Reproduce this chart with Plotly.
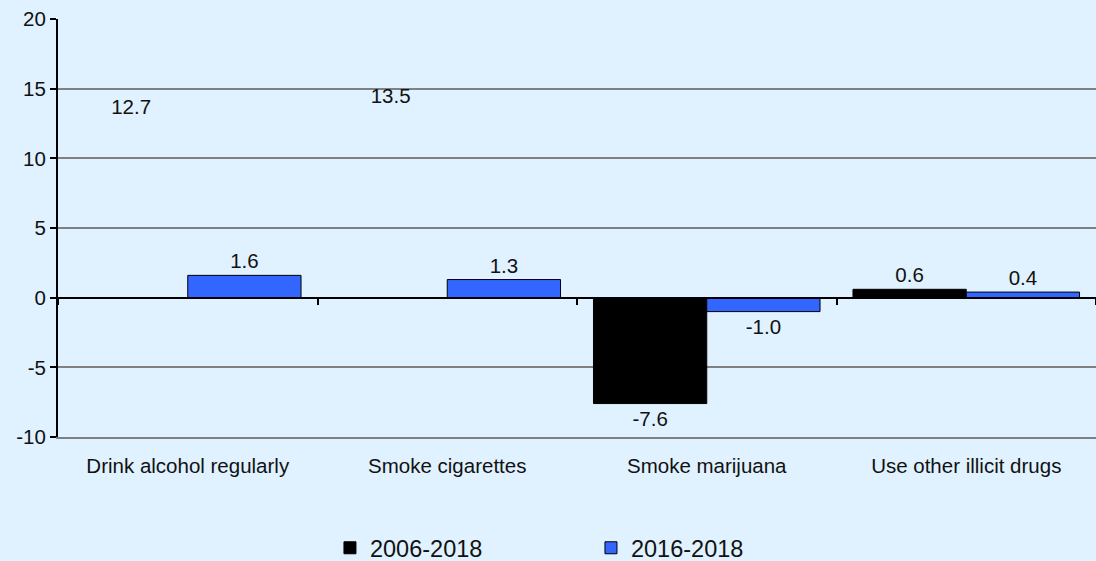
import plotly.graph_objects as go

categories = ['Drink alcohol regularly', 'Smoke cigarettes', 'Smoke marijuana', 'Use other illicit drugs']
change_2006_2018 = [12.7, 13.5, -7.6, 0.6]
change_2016_2018 = [1.6, 1.3, -1.0, 0.4]
# the first two 2006-2018 bars are not drawn in the source, only their labels
bar_drawn_2006 = [False, False, True, True]
y_ticks = [-10, -5, 0, 5, 10, 15, 20]

bg = '#E0F2FF'
black_fill = ['#000000' if d else 'rgba(0,0,0,0)' for d in bar_drawn_2006]

fig = go.Figure()
fig.add_trace(go.Bar(
    x=categories, y=change_2006_2018, name='2006-2018', offsetgroup='a', showlegend=False,
    marker=dict(color=black_fill, line=dict(color=black_fill, width=1)),
    text=[f'{v:.1f}' for v in change_2006_2018], textposition='outside',
    textfont=dict(size=20.5, color='#111111'), cliponaxis=False,
))
# legend entry for the black series (first point of the real trace is transparent)
fig.add_trace(go.Bar(
    x=categories, y=[None] * len(categories), name='2006-2018', offsetgroup='a',
    marker=dict(color='#000000', line=dict(color='#000000', width=1)), hoverinfo='skip',
))
fig.add_trace(go.Bar(
    x=categories, y=change_2016_2018, name='2016-2018', offsetgroup='b',
    marker=dict(color='#3366FF', line=dict(color='#000000', width=1)),
    text=[f'{v:.1f}' for v in change_2016_2018], textposition='outside',
    textfont=dict(size=20.5, color='#111111'), cliponaxis=False,
))
# invisible trace carrying the zero-line axis with boundary ticks
fig.add_trace(go.Scatter(
    x=categories, y=[0] * len(categories), xaxis='x2', mode='markers',
    marker=dict(opacity=0), showlegend=False, hoverinfo='skip',
))

fig.update_layout(
    width=1096, height=561,
    paper_bgcolor=bg, plot_bgcolor=bg,
    font=dict(family='Liberation Sans, Arial, sans-serif', color='#111111'),
    margin=dict(l=58, r=0, t=19, b=124),
    barmode='group', bargap=0.127, bargroupgap=0,
    xaxis=dict(type='category', categoryorder='array', categoryarray=categories,
               range=[-0.5, 3.5], showgrid=False, showline=True, linecolor='#808080',
               linewidth=2, ticks='', automargin=False,
               tickfont=dict(size=20.5), ticklabelstandoff=9),
    xaxis2=dict(type='category', categoryorder='array', categoryarray=categories,
                range=[-0.5, 3.5], overlaying='x', anchor='free', position=1 / 3,
                showgrid=False, showline=True, linecolor='#000000', linewidth=2,
                ticks='outside', tickson='boundaries', ticklen=6, tickwidth=2,
                tickcolor='#000000', showticklabels=False),
    yaxis=dict(range=[-10, 20], tickvals=y_ticks, ticktext=[str(v) for v in y_ticks],
               showgrid=True, gridcolor='#808080', gridwidth=2, automargin=False,
               zeroline=False, showline=True, linecolor='#000000', linewidth=2,
               ticks='outside', ticklen=6, tickwidth=2, tickcolor='#000000',
               tickfont=dict(size=20.5)),
    legend=dict(orientation='h', x=0.262, xanchor='left', yref='container',
                y=1 - 548 / 561, yanchor='middle',
                font=dict(size=23.5), entrywidth=216, itemwidth=30,
                bgcolor='rgba(0,0,0,0)'),
    showlegend=True,
)

fig.write_html('out.html', config={'displayModeBar': False},
               post_script="document.body.style.margin='0';")
